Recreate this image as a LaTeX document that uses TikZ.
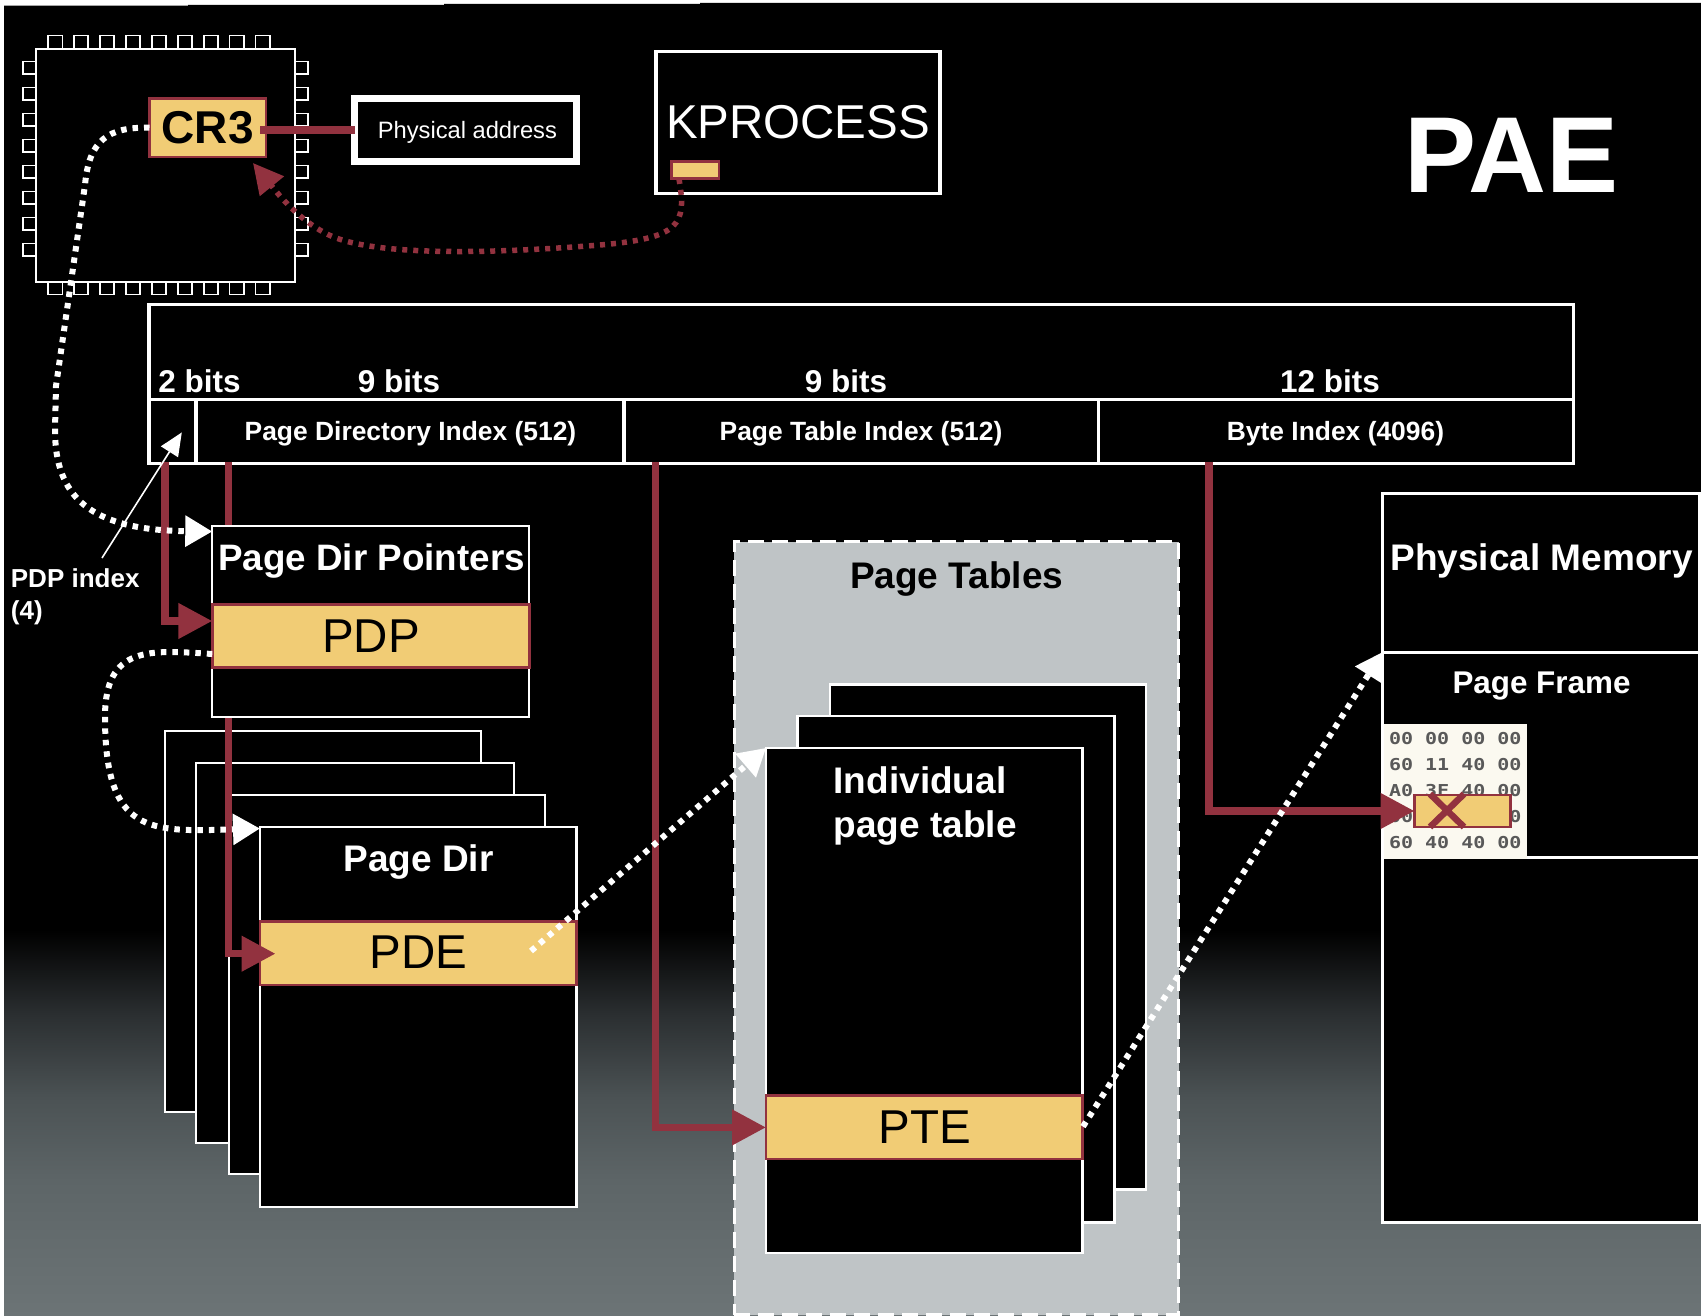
\documentclass[tikz,border=0pt]{standalone}
\usepackage{fontspec}
\usepackage{graphicx}
\setmainfont{Liberation Sans}
\newfontfamily\hexfont{DejaVu Sans Mono}
\usetikzlibrary{arrows.meta,calc}
\definecolor{wine}{HTML}{92323F}
\definecolor{honey}{HTML}{F1CC75}
\definecolor{pale}{HTML}{BFC4C6}
\definecolor{paper}{HTML}{FBF9F0}
\definecolor{gra}{HTML}{2A2E30}
\definecolor{grb}{HTML}{4B5254}
\definecolor{grc}{HTML}{5D6567}
\definecolor{grd}{HTML}{6C7476}
\tikzset{
  boxw/.style={draw=white,fill=black,line width=#1,inner sep=0,outer sep=0,anchor=north west},
  boxw/.default=3pt,
  entry/.style={draw=wine,fill=honey,line width=2.8pt,inner sep=0,outer sep=0,anchor=north west},
  lab/.style={inner sep=0,anchor=base,text=white},
  bbig/.style={lab,font=\fontsize{37}{40}\selectfont\bfseries},
  bmid/.style={lab,font=\fontsize{31.5}{34}\selectfont\bfseries},
  bsm/.style={lab,font=\fontsize{26.4}{30}\selectfont\bfseries},
  ent/.style={lab,text=black,font=\fontsize{47.5}{50}\selectfont},
  hexrow/.style={inner sep=0,anchor=base,text=black!65},
  redline/.style={draw=wine,line width=7.5pt},
  redarrow/.style={redline,-{Triangle[length=34pt,width=34pt,fill=wine]}},
  dotw/.style={draw=white,line width=6pt,dash pattern=on 5.5pt off 6pt},
  dotr/.style={draw=wine,line width=5.5pt,dash pattern=on 5pt off 6pt},
  headw/.style={-{Triangle[length=27pt,width=30pt,fill=white]}},
}
\begin{document}
\begin{tikzpicture}[x=1pt,y=-1pt]
\useasboundingbox (0,0) rectangle (1701,1316);
% page and backdrop
\fill[white] (0,0) rectangle (1701,1316);
\fill[black] (4,1316) -- (4,5.7) -- (188,5.7) -- (188,5) -- (444,5) -- (444,4) -- (700,4) -- (700,3) -- (1701,3) -- (1701,1316) -- cycle;
\shade[top color=black,bottom color=gra] (4,930) rectangle (1701,1013.5);
\shade[top color=gra,bottom color=grb] (4,1013) rectangle (1701,1097.5);
\shade[top color=grb,bottom color=grc] (4,1097) rectangle (1701,1180.5);
\shade[top color=grc,bottom color=grd] (4,1180) rectangle (1701,1316);
% chip pins
\foreach \i in {0,...,8} {
  \draw[white,line width=1.8pt,fill=black] ({48.2+25.9*\i},35.5) rectangle ++(14.2,15);
  \draw[white,line width=1.8pt,fill=black] ({48.2+25.9*\i},280) rectangle ++(14.2,14.5);
}
\foreach \i in {0,...,7} {
  \draw[white,line width=1.8pt,fill=black] (23,{61.5+26*\i}) rectangle ++(15.5,12.7);
  \draw[white,line width=1.8pt,fill=black] (292.5,{61.5+26*\i}) rectangle ++(15.7,12.7);
}
\node[boxw=2pt,minimum width=259.4pt,minimum height=233.3pt] (chip) at (35.6,48.7) {};
\node[entry,line width=2.5pt,minimum width=116.5pt,minimum height=58.7pt,font=\fontsize{46}{48}\selectfont\bfseries,text=black] (cr3) at (149.5,98.3) {CR3};
\node[boxw=7pt,minimum width=221.6pt,minimum height=63.3pt] (phys) at (354.7,98.4) {};
\node[lab,font=\fontsize{23.7}{26}\selectfont] (physlab) at (467.4,138.5) {Physical address};
\node[boxw=3.4pt,minimum width=284.1pt,minimum height=142pt] (kproc) at (655.9,51.5) {};
\node[lab,font=\fontsize{47.5}{50}\selectfont] (kproclab) at (798,139) {KPROCESS};
\node[entry,line width=2.5pt,minimum width=47.5pt,minimum height=17pt] (kslot) at (671.5,161.7) {};
\node[lab,font=\fontsize{108}{112}\selectfont\bfseries] (pae) at (1511.5,192.3) {PAE};
\draw[redline,shorten <=-6pt] (cr3.east |- phys.west) -- (phys.west);
% virtual address register
\node[boxw=3.4pt,minimum width=1424.5pt,minimum height=94.7pt] (reghead) at (149,304.5) {};
\node[boxw=3.4pt,minimum width=47pt,minimum height=64pt] (regpdp) at (149,399.2) {};
\node[boxw=3.4pt,minimum width=428pt,minimum height=64pt] (regpd) at (196,399.2) {};
\node[boxw=3.4pt,minimum width=474.7pt,minimum height=64pt] (regpt) at (624,399.2) {};
\node[boxw=3.4pt,minimum width=474.8pt,minimum height=64pt] (regbyte) at (1098.7,399.2) {};
\node[bmid] (b1) at (199.5,392.5) {2 bits};
\node[bmid] (b2) at (399,392.5) {9 bits};
\node[bmid] (b3) at (846,392.5) {9 bits};
\node[bmid] (b4) at (1330,392.5) {12 bits};
\node[bsm] (l2) at (410.5,440) {Page Directory Index (512)};
\node[bsm] (l3) at (861,440) {Page Table Index (512)};
\node[bsm] (l4) at (1335.5,440) {Byte Index (4096)};
% page directories
\node[boxw=2pt,minimum width=316.4pt,minimum height=380.7pt] (pd1) at (165,731) {};
\node[boxw=2pt,minimum width=317.3pt,minimum height=379.7pt] (pd2) at (196.3,763) {};
\node[boxw=2pt,minimum width=316.5pt,minimum height=379.8pt] (pd3) at (228.5,794.5) {};
\node[boxw=2.2pt,minimum width=316.5pt,minimum height=380.1pt] (pd4) at (260,826.6) {};
\node[bbig] (pdlab) at (418.5,871.8) {Page Dir};
\node[entry,minimum width=316.5pt,minimum height=63.7pt] (pde) at (260,921.3) {};
\node[ent] (pdelab) at (418.5,968.5) {PDE};
% page directory index connector
\coordinate (r2) at (228.5,462);
\coordinate (pdein) at (275.5,953.7);
\draw[redarrow] (r2) |- (pdein);
% page directory pointers
\node[boxw=2.2pt,minimum width=317pt,minimum height=191pt] (ptrs) at (212.3,525.6) {};
\node[bbig,font=\fontsize{36.8}{40}\selectfont\bfseries] (ptrlab) at (371.5,570) {Page Dir Pointers};
\node[entry,minimum width=317pt,minimum height=63.2pt] (pdp) at (212.3,604.6) {};
\node[ent] (pdplab) at (371,652.7) {PDP};
\coordinate (r1) at (165,462);
\coordinate (pdpin) at (212.3,621);
\draw[redarrow] (r1) |- (pdpin);
% page tables
\node[draw=white,fill=pale,line width=3.5pt,dash pattern=on 16pt off 8pt,inner sep=0,outer sep=0,anchor=north west,minimum width=444.4pt,minimum height=773.3pt] (tables) at (734.3,541.7) {};
\node[bbig,text=black] (tableslab) at (956.7,588) {Page Tables};
\node[boxw=2.6pt,minimum width=316.2pt,minimum height=505pt] (pt3) at (829.8,684.5) {};
\node[boxw=2.6pt,minimum width=317pt,minimum height=506.5pt] (pt2) at (797.6,716) {};
\node[boxw=2.6pt,minimum width=316.4pt,minimum height=504.8pt] (pt1) at (766,748) {};
\node[bbig,anchor=base west] (indiv1) at (833.5,793) {Individual};
\node[bbig,anchor=base west] (indiv2) at (833.5,837.5) {page table};
\node[entry,minimum width=316.4pt,minimum height=63.2pt] (pte) at (766,1095.8) {};
\node[ent] (ptelab) at (924.5,1143.5) {PTE};
\coordinate (r3) at (655.5,462);
\draw[redarrow] (r3) |- (pte.west);
% physical memory
\node[boxw=3.5pt,minimum width=316.6pt,minimum height=729pt] (mem) at (1382.7,493.5) {};
\node[boxw=3pt,minimum width=316.6pt,minimum height=205.5pt] (pageframe) at (1382.7,652) {};
\node[bbig] (memlab) at (1541.5,570) {Physical Memory};
\node[lab,font=\fontsize{31.4}{34}\selectfont\bfseries] (pflab) at (1541.5,693.5) {Page Frame};
\node[fill=paper,inner sep=0,outer sep=0,anchor=north west,minimum width=143pt,minimum height=135.3pt] (hex) at (1384,724) {};
\foreach \r/\t/\y in {a/00 00 00 00/744,b/60 11 40 00/770,c/A0 3F 40 00/796,d/00 00 00 00/822,e/60 40 40 00/848} {
  \node[hexrow] (hex\r) at (1455.3,\y) {\scalebox{1}[.82]{\fontsize{20}{22}\hexfont\bfseries\selectfont \t}};
}
\node[entry,line width=2.5pt,minimum width=96pt,minimum height=32pt] (frame) at (1414.5,795) {};
\coordinate (xa) at (1430,794);
\coordinate (xb) at (1464,827);
\coordinate (xc) at (1430,827);
\coordinate (xd) at (1464,794);
\draw[wine,line width=6.5pt] (xa) -- (xb) (xc) -- (xd);
\coordinate (r4) at (1209,462);
\draw[redarrow] (r4) |- (frame.west);
% dotted links
\coordinate (wpa) at (85,185);
\coordinate (wpb) at (56,386);
\coordinate (wpc) at (55,430);
\coordinate (ptrin) at (212.3,531.5);
\draw[dotw,headw] (cr3.west) .. controls (108,127) and (89,140) .. (wpa) -- (wpb) -- (wpc) .. controls (55,497) and (90,530) .. (ptrin);
\coordinate (pdpout) at (212.3,654);
\coordinate (pdin) at (260,828.5);
\draw[dotw,headw] (pdpout) .. controls (150,650) and (105,645) .. (105,717) .. controls (105,835) and (150,832) .. (pdin);
\coordinate (pdeout) at (531,951);
\draw[dotw,headw] (pdeout) -- (pt1.north west);
\coordinate (pteout) at (1083,1126.6);
\coordinate (memin) at (1382.7,652);
\draw[dotw,headw] (pteout) -- (memin);
\coordinate (kout) at (679,179);
\coordinate (crin) at (253,163);
\draw[dotr,-{Triangle[length=30pt,width=30pt,fill=wine]}] (kout) .. controls (687,225) and (680,238) .. (600,245) .. controls (500,253) and (370,258) .. (325,233) .. controls (295,217) and (275,190) .. (crin);
% PDP index callout
\node[lab,font=\fontsize{26}{32}\selectfont\bfseries,anchor=base west,align=left] (pdpidx) at (10.7,619.5) {PDP index\\(4)};
\coordinate (calltail) at (102,558);
\coordinate (callhead) at (181.8,432.4);
\draw[white,line width=1.6pt,-{Triangle[length=23pt,width=20pt,fill=white]}] (calltail) -- (callhead);
\end{tikzpicture}
\end{document}
